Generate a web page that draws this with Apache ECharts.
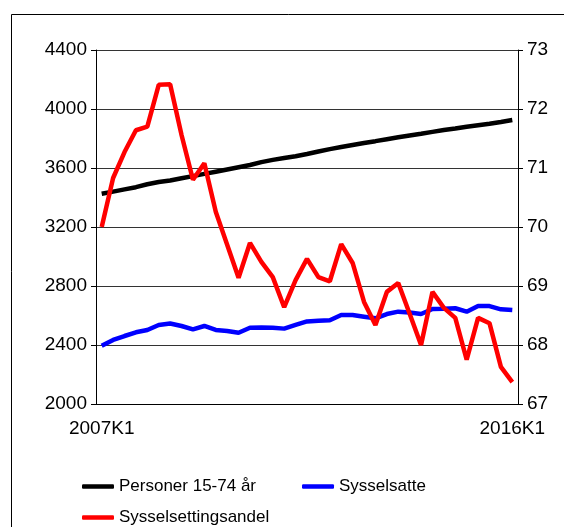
<!DOCTYPE html>
<html>
<head>
<meta charset="utf-8">
<script src="https://cdn.jsdelivr.net/npm/echarts@6/dist/echarts.min.js"></script>
<style>
  html, body { margin: 0; padding: 0; background: #fff; }
  #chart { width: 564px; height: 527px; }
</style>
</head>
<body>
<div id="chart"></div>
<script>
const quarters = [
  '2007K1', '2007K2', '2007K3', '2007K4',
  '2008K1', '2008K2', '2008K3', '2008K4',
  '2009K1', '2009K2', '2009K3', '2009K4',
  '2010K1', '2010K2', '2010K3', '2010K4',
  '2011K1', '2011K2', '2011K3', '2011K4',
  '2012K1', '2012K2', '2012K3', '2012K4',
  '2013K1', '2013K2', '2013K3', '2013K4',
  '2014K1', '2014K2', '2014K3', '2014K4',
  '2015K1', '2015K2', '2015K3', '2015K4',
  '2016K1'
];

// Personer 15-74 år (venstre akse, 1000 personer)
const personer = [
  3425, 3440, 3455, 3470, 3490, 3505, 3515, 3530, 3545, 3560,
  3575, 3590, 3605, 3620, 3640, 3655, 3668, 3680, 3695, 3712,
  3728, 3742, 3756, 3770, 3782, 3795, 3808, 3820, 3832, 3845,
  3858, 3868, 3880, 3890, 3900, 3912, 3925
];

// Sysselsatte (venstre akse)
const sysselsatte = [
  2395, 2434, 2461, 2486, 2502, 2536, 2546, 2529, 2506, 2529,
  2502, 2495, 2483, 2517, 2519, 2517, 2511, 2536, 2560, 2565,
  2568, 2603, 2603, 2592, 2581, 2610, 2626, 2620, 2610, 2644,
  2646, 2649, 2626, 2664, 2664, 2642, 2637
];

// Sysselsettingsandel (høyre akse, prosent)
const andel = [
  70.0, 70.83, 71.27, 71.64, 71.70, 72.41, 72.42, 71.56, 70.80, 71.08,
  70.26, 69.70, 69.14, 69.73, 69.41, 69.15, 68.64, 69.10, 69.46, 69.15,
  69.08, 69.71, 69.39, 68.73, 68.34, 68.90, 69.05, 68.53, 68.00, 68.90,
  68.63, 68.46, 67.75, 68.46, 68.37, 67.63, 67.37
];

const font = 'Liberation Sans, Arial, sans-serif';
const chart = echarts.init(document.getElementById('chart'));

chart.setOption({
  animation: false,
  backgroundColor: '#fff',
  graphic: [{
    type: 'rect',
    shape: { x: 11.5, y: 14.5, width: 600, height: 600 },
    style: { fill: 'none', stroke: '#000', lineWidth: 1 },
    silent: true
  }],
  grid: { left: 96, right: 46, top: 50, bottom: 123 },
  legend: [
    {
      data: ['Personer 15-74 år', 'Sysselsatte'],
      left: 77, top: 473,
      icon: 'roundRect', itemWidth: 32, itemHeight: 4.5, itemGap: 46,
      textStyle: { fontFamily: font, fontSize: 17, color: '#000' }
    },
    {
      data: ['Sysselsettingsandel'],
      left: 77, top: 504,
      icon: 'roundRect', itemWidth: 32, itemHeight: 4.5,
      textStyle: { fontFamily: font, fontSize: 17, color: '#000' }
    }
  ],
  xAxis: {
    type: 'category',
    data: quarters,
    boundaryGap: true,
    axisLine: { lineStyle: { color: '#000', width: 1 } },
    axisTick: { interval: 0, length: 4, lineStyle: { color: '#000' } },
    axisLabel: {
      interval: function (i) { return i === 0 || i === quarters.length - 1; },
      fontFamily: font, fontSize: 19, color: '#000', margin: 15
    },
    splitLine: { show: false }
  },
  yAxis: [
    {
      type: 'value', min: 2000, max: 4400, interval: 400, position: 'left',
      axisLine: { show: true, lineStyle: { color: '#000' } },
      axisTick: { show: true, length: 5, lineStyle: { color: '#000' } },
      axisLabel: {
        formatter: function (v) { return String(v); },
        fontFamily: font, fontSize: 19, color: '#000', margin: 9
      },
      splitLine: { show: true, lineStyle: { color: '#333', width: 1 } }
    },
    {
      type: 'value', min: 67, max: 73, interval: 1, position: 'right',
      axisLine: { show: true, lineStyle: { color: '#000' } },
      axisTick: { show: true, length: 5, lineStyle: { color: '#000' } },
      axisLabel: { fontFamily: font, fontSize: 19, color: '#000', margin: 9 },
      splitLine: { show: false }
    }
  ],
  series: [
    {
      name: 'Personer 15-74 år', type: 'line', yAxisIndex: 0,
      data: personer, showSymbol: false, symbol: 'none',
      lineStyle: { color: '#000', width: 4.5 }, itemStyle: { color: '#000' }
    },
    {
      name: 'Sysselsatte', type: 'line', yAxisIndex: 0,
      data: sysselsatte, showSymbol: false, symbol: 'none',
      lineStyle: { color: '#0000ff', width: 4.5 }, itemStyle: { color: '#0000ff' }
    },
    {
      name: 'Sysselsettingsandel', type: 'line', yAxisIndex: 1,
      data: andel, showSymbol: false, symbol: 'none',
      lineStyle: { color: '#ff0000', width: 4.5 }, itemStyle: { color: '#ff0000' }
    }
  ]
});
</script>
</body>
</html>
